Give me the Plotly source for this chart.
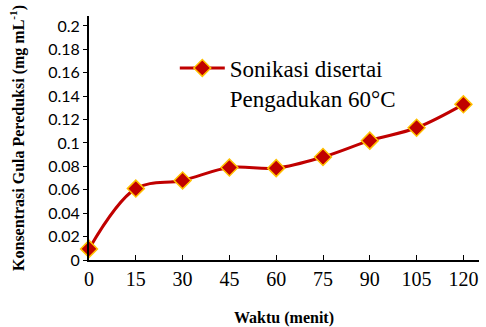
import plotly.graph_objects as go

waktu = [0, 15, 30, 45, 60, 75, 90, 105, 120]
konsentrasi = [0.0095, 0.061, 0.068, 0.079, 0.0785, 0.088, 0.102, 0.113, 0.133]
x_ticks = [0, 15, 30, 45, 60, 75, 90, 105, 120]
y_ticks = [0, 0.02, 0.04, 0.06, 0.08, 0.1, 0.12, 0.14, 0.16, 0.18, 0.2]
y_tick_text = ["0", "0.02", "0.04", "0.06", "0.08", "0.1", "0.12", "0.14", "0.16", "0.18", "0.2"]
series_name = "Sonikasi disertai<br>Pengadukan 60°C"

fig = go.Figure()
fig.add_trace(go.Scatter(
    x=waktu, y=konsentrasi, name=series_name, mode="lines+markers",
    line=dict(color="#C00000", width=3, shape="spline", smoothing=1.0),
    marker=dict(symbol="diamond", size=13, color="#C00000",
                line=dict(color="#FFC000", width=1.5)),
    cliponaxis=False,
))

fig.update_layout(
    width=486, height=327,
    margin=dict(l=89, r=7, t=16, b=67, autoexpand=False),
    plot_bgcolor="white", paper_bgcolor="white",
    showlegend=True,
    legend=dict(x=0.22, y=0.875, xanchor="left", yanchor="top",
                font=dict(family="Liberation Serif, Times New Roman, serif", size=23, color="black"),
                bgcolor="rgba(0,0,0,0)", itemwidth=45, valign="top",
                tracegroupgap=0),
    xaxis=dict(
        range=[0, 125], tickvals=x_ticks, ticktext=[str(v) for v in x_ticks],
        showline=True, linecolor="black", linewidth=2, showgrid=False, zeroline=False,
        ticks="inside", ticklen=5, tickcolor="black", tickwidth=1,
        tickfont=dict(family="Liberation Serif", size=20, color="black"),
        title=dict(text="<b>Waktu (menit)</b>", standoff=23,
                   font=dict(family="Liberation Serif", size=16, color="black")),
    ),
    yaxis=dict(
        range=[0, 0.2085], tickvals=y_ticks, ticktext=y_tick_text,
        showline=True, linecolor="black", linewidth=2, showgrid=False, zeroline=False,
        ticks="outside", ticklen=4, tickcolor="black", tickwidth=1,
        tickfont=dict(family="Lato", size=16, color="black"),
        title=dict(text="<b>Konsentrasi Gula Pereduksi (mg mL<sup>-1</sup>)</b>", standoff=20,
                   font=dict(family="Liberation Serif", size=16, color="black")),
    ),
)

fig.write_html("out.html", config={"displayModeBar": False},
               post_script="document.body.style.margin='0';")
